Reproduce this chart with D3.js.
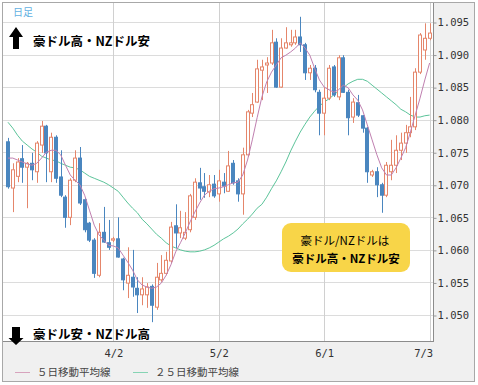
<!DOCTYPE html>
<html>
<head>
<meta charset="utf-8">
<script src="https://cdn.jsdelivr.net/npm/d3@7"></script>
<style>
  body { margin: 0; background: #fff; }
  svg text { font-family: "DejaVu Sans Mono", monospace; }
  svg text.jp { font-family: "Noto Sans CJK JP", sans-serif; }
</style>
</head>
<body>
<svg width="478" height="385"></svg>
<script>
// AUD/NZD daily, 2018-03-01 .. 2018-07-03 (weekdays)
var priceOpen = [1.0766,1.0695,1.0713,1.0740,1.0727,1.0733,1.0720,1.0761,1.0790,1.0720,
  1.0773,1.0712,1.0681,1.0650,1.0707,1.0741,1.0677,1.0641,1.0615,1.0561,
  1.0627,1.0611,1.0615,1.0617,1.0586,1.0549,1.0558,1.0541,1.0531,1.0531,
  1.0544,1.0512,1.0554,1.0564,1.0583,1.0637,1.0626,1.0618,1.0631,1.0650,
  1.0703,1.0697,1.0689,1.0701,1.0686,1.0704,1.0690,1.0733,1.0706,1.0686,
  1.0746,1.0810,1.0827,1.0876,1.0884,1.0887,1.0919,1.0850,1.0910,1.0915,
  1.0918,1.0927,1.0915,1.0872,1.0879,1.0842,1.0810,1.0833,1.0881,1.0835,
  1.0895,1.0842,1.0804,1.0826,1.0806,1.0787,1.0715,1.0720,1.0700,1.0684,
  1.0720,1.0730,1.0753,1.0764,1.0780,1.0789,1.0873,1.0907,1.0925];
var priceHigh = [1.0772,1.0733,1.0741,1.0761,1.0735,1.0749,1.0767,1.0798,1.0792,1.0780,
  1.0776,1.0753,1.0684,1.0710,1.0753,1.0758,1.0680,1.0643,1.0618,1.0641,
  1.0666,1.0646,1.0620,1.0650,1.0588,1.0604,1.0600,1.0558,1.0558,1.0549,
  1.0547,1.0580,1.0592,1.0597,1.0643,1.0670,1.0660,1.0658,1.0686,1.0710,
  1.0726,1.0718,1.0715,1.0715,1.0723,1.0718,1.0752,1.0738,1.0710,1.0757,
  1.0815,1.0841,1.0892,1.0892,1.0896,1.0938,1.0925,1.0925,1.0942,1.0938,
  1.0938,1.0958,1.0918,1.0884,1.0884,1.0846,1.0850,1.0884,1.0884,1.0899,
  1.0899,1.0846,1.0833,1.0838,1.0807,1.0789,1.0723,1.0727,1.0703,1.0735,
  1.0769,1.0776,1.0780,1.0792,1.0835,1.0879,1.0933,1.0948,1.0948];
var priceLow = [1.0694,1.0658,1.0704,1.0703,1.0664,1.0707,1.0703,1.0749,1.0704,1.0704,
  1.0703,1.0681,1.0634,1.0638,1.0704,1.0669,1.0627,1.0612,1.0557,1.0558,
  1.0611,1.0600,1.0612,1.0588,1.0538,1.0526,1.0528,1.0503,1.0515,1.0511,
  1.0489,1.0508,1.0551,1.0561,1.0580,1.0603,1.0618,1.0615,1.0627,1.0646,
  1.0677,1.0680,1.0681,1.0680,1.0674,1.0687,1.0689,1.0700,1.0674,1.0654,
  1.0743,1.0804,1.0826,1.0830,1.0841,1.0884,1.0849,1.0849,1.0909,1.0912,
  1.0915,1.0904,1.0861,1.0861,1.0842,1.0776,1.0776,1.0830,1.0835,1.0830,
  1.0841,1.0776,1.0795,1.0804,1.0780,1.0703,1.0712,1.0681,1.0657,1.0681,
  1.0707,1.0718,1.0738,1.0749,1.0773,1.0784,1.0870,1.0892,1.0922];
var priceClose = [1.0697,1.0723,1.0735,1.0727,1.0733,1.0723,1.0764,1.0790,1.0749,1.0773,
  1.0710,1.0684,1.0650,1.0707,1.0741,1.0672,1.0631,1.0615,1.0564,1.0627,
  1.0612,1.0604,1.0617,1.0589,1.0554,1.0561,1.0543,1.0531,1.0540,1.0543,
  1.0515,1.0558,1.0564,1.0584,1.0635,1.0626,1.0634,1.0627,1.0683,1.0704,
  1.0695,1.0690,1.0700,1.0683,1.0706,1.0698,1.0729,1.0703,1.0686,1.0746,
  1.0812,1.0823,1.0878,1.0881,1.0887,1.0918,1.0850,1.0910,1.0918,1.0918,
  1.0927,1.0915,1.0872,1.0879,1.0846,1.0810,1.0833,1.0879,1.0838,1.0895,
  1.0842,1.0803,1.0827,1.0807,1.0787,1.0720,1.0720,1.0700,1.0684,1.0730,
  1.0730,1.0753,1.0764,1.0780,1.0789,1.0873,1.0930,1.0925,1.0933];
var ma5 = [1.0741,1.0741,1.0738,1.0735,1.0732,1.0730,1.0733,1.0741,1.0750,1.0753,
  1.0753,1.0746,1.0730,1.0715,1.0707,1.0700,1.0684,1.0661,1.0638,1.0623,
  1.0615,1.0607,1.0606,1.0603,1.0592,1.0581,1.0569,1.0554,1.0546,1.0543,
  1.0541,1.0543,1.0549,1.0561,1.0577,1.0597,1.0611,1.0626,1.0643,1.0658,
  1.0672,1.0684,1.0690,1.0694,1.0695,1.0697,1.0700,1.0703,1.0704,1.0715,
  1.0738,1.0769,1.0803,1.0835,1.0858,1.0873,1.0884,1.0895,1.0899,1.0904,
  1.0910,1.0918,1.0910,1.0899,1.0879,1.0861,1.0850,1.0846,1.0842,1.0846,
  1.0853,1.0849,1.0838,1.0830,1.0815,1.0792,1.0769,1.0746,1.0726,1.0715,
  1.0715,1.0726,1.0741,1.0757,1.0781,1.0807,1.0833,1.0861,1.0887];
var ma25 = [1.0796,1.0787,1.0776,1.0767,1.0761,1.0755,1.0750,1.0744,1.0741,1.0738,
  1.0737,1.0733,1.0730,1.0727,1.0726,1.0723,1.0718,1.0713,1.0710,1.0707,
  1.0704,1.0700,1.0695,1.0690,1.0681,1.0672,1.0664,1.0657,1.0647,1.0640,
  1.0632,1.0624,1.0618,1.0611,1.0606,1.0603,1.0600,1.0598,1.0597,1.0597,
  1.0598,1.0600,1.0603,1.0607,1.0612,1.0617,1.0621,1.0626,1.0632,1.0640,
  1.0647,1.0655,1.0664,1.0670,1.0681,1.0694,1.0706,1.0720,1.0735,1.0752,
  1.0767,1.0781,1.0793,1.0804,1.0813,1.0821,1.0827,1.0832,1.0838,1.0844,
  1.0849,1.0855,1.0859,1.0862,1.0862,1.0859,1.0853,1.0847,1.0841,1.0835,
  1.0829,1.0823,1.0816,1.0812,1.0807,1.0804,1.0804,1.0806,1.0807];
var yTicks = [1.050,1.055,1.060,1.065,1.070,1.075,1.080,1.085,1.090,1.095];
var xTickLabels = ["4/2","5/2","6/1","7/3"];

var dates = d3.timeDay.range(new Date(2018,2,1), new Date(2018,6,4))
              .filter(d => d.getDay() != 0 && d.getDay() != 6);
var fmt = d3.timeFormat("%-m/%-d");

var svg = d3.select("svg");
var plot = {left: 3, top: 3, right: 433, bottom: 341};

var x = d3.scalePoint()
          .domain(d3.range(dates.length))
          .range([8, 429.6]);
var y = d3.scaleLinear()
          .domain([1.050, 1.095])
          .range([315, 22]);

var blue = "#4a86bf", orange = "#e5866b";

// frame
svg.append("rect")
  .attr("x", 2.5).attr("y", 2.5).attr("width", 472).attr("height", 379)
  .attr("fill", "#f0f0f0").attr("stroke", "#a8a8a8");
svg.append("rect")
  .attr("x", plot.left).attr("y", plot.top)
  .attr("width", plot.right - plot.left).attr("height", plot.bottom - plot.top)
  .attr("fill", "#fff");

// grid
svg.append("g").selectAll("line")
  .data(yTicks)
  .enter().append("line")
    .attr("x1", plot.left).attr("x2", plot.right)
    .attr("y1", d => Math.round(y(d)) + 0.5).attr("y2", d => Math.round(y(d)) + 0.5)
    .attr("stroke", "#dcdcdc");

var xTickIdx = xTickLabels.map(l => dates.findIndex(d => fmt(d) == l));
svg.append("g").selectAll("line")
  .data(xTickIdx)
  .enter().append("line")
    .attr("x1", d => Math.round(x(d)) + 0.5).attr("x2", d => Math.round(x(d)) + 0.5)
    .attr("y1", plot.top).attr("y2", plot.bottom)
    .attr("stroke", "#d0d0d0");

// moving averages
var line = d3.line().x((d, i) => x(i)).y(d => y(d));
svg.append("path").datum(ma25)
  .attr("d", line).attr("fill", "none").attr("stroke", "#5cc49a").attr("stroke-width", 1);

// candles
var g = svg.append("g");
var idx = d3.range(dates.length);
g.selectAll(".wick")
  .data(idx)
  .enter().append("line")
    .attr("class", "wick")
    .attr("x1", i => Math.round(x(i)) + 0.5).attr("x2", i => Math.round(x(i)) + 0.5)
    .attr("y1", i => y(priceHigh[i])).attr("y2", i => y(priceLow[i]))
    .attr("stroke", i => priceClose[i] >= priceOpen[i] ? orange : blue);
g.selectAll(".body")
  .data(idx)
  .enter().append("rect")
    .attr("class", "body")
    .attr("x", i => Math.round(x(i)) - 1.5)
    .attr("width", 3)
    .attr("y", i => y(Math.max(priceOpen[i], priceClose[i])))
    .attr("height", i => Math.max(1, Math.abs(y(priceOpen[i]) - y(priceClose[i]))))
    .attr("fill", i => priceClose[i] >= priceOpen[i] ? "#fff" : blue)
    .attr("stroke", i => priceClose[i] >= priceOpen[i] ? orange : blue);

svg.append("path").datum(ma5)
  .attr("d", line).attr("fill", "none").attr("stroke", "#c080b0").attr("stroke-width", 1);

// axes
svg.append("line")
  .attr("x1", plot.right + 0.5).attr("x2", plot.right + 0.5)
  .attr("y1", plot.top).attr("y2", plot.bottom + 1)
  .attr("stroke", "#8c8c8c");
svg.append("line")
  .attr("x1", plot.left).attr("x2", plot.right)
  .attr("y1", plot.bottom + 0.5).attr("y2", plot.bottom + 0.5)
  .attr("stroke", "#8c8c8c");

var yAxis = svg.append("g")
  .attr("transform", "translate(" + (plot.right + 0.5) + ",0.5)")
  .call(d3.axisRight(y).tickValues(yTicks).tickSize(3).tickPadding(1)
          .tickFormat(d3.format(".3f")));
yAxis.select(".domain").remove();
yAxis.selectAll("line").attr("stroke", "#999");
yAxis.selectAll("text").attr("fill", "#333").style("font-size", "10.5px");

var xAxis = svg.append("g")
  .attr("transform", "translate(0," + plot.bottom + ")")
  .call(d3.axisBottom(x).tickValues(xTickIdx).tickSize(0).tickPadding(9)
          .tickFormat(i => fmt(dates[i])));
xAxis.select(".domain").remove();
xAxis.selectAll("text").attr("fill", "#333").style("font-size", "10.5px");
// last label is pulled in so it stays inside the plot width
xAxis.selectAll("text").filter((d, k) => k == xTickIdx.length - 1)
  .attr("text-anchor", "end").attr("dx", 3);

// labels
svg.append("text").attr("class", "jp")
  .attr("x", 13).attr("y", 16).attr("fill", "#62b0e2").style("font-size", "10px")
  .text("日足");

svg.append("path")
  .attr("d", "M9,37 L16,27 L23,37 L19,37 L19,49 L13,49 L13,37 Z")
  .attr("fill", "#000");
svg.append("text").attr("class", "jp")
  .attr("x", 33).attr("y", 46).style("font-size", "12.5px").style("font-weight", "bold")
  .text("豪ドル高・NZドル安");

svg.append("path")
  .attr("d", "M12,327 L20,327 L20,338 L23.5,338 L16,345 L8.5,338 L12,338 Z")
  .attr("fill", "#000");
svg.append("text").attr("class", "jp")
  .attr("x", 33).attr("y", 339).style("font-size", "12.5px").style("font-weight", "bold")
  .text("豪ドル安・NZドル高");

// callout
svg.append("rect")
  .attr("x", 282).attr("y", 223).attr("width", 128).attr("height", 49).attr("rx", 9)
  .attr("fill", "#f8d548");
svg.append("text").attr("class", "jp")
  .attr("x", 345).attr("y", 245).attr("text-anchor", "middle").style("font-size", "11.5px")
  .text("豪ドル/NZドルは");
svg.append("text").attr("class", "jp")
  .attr("x", 346).attr("y", 263).attr("text-anchor", "middle").style("font-size", "11.5px")
  .style("font-weight", "bold")
  .text("豪ドル高・NZドル安");

// legend
var legend = [["５日移動平均線", "#d7a3bd", 15], ["２５日移動平均線", "#86d4b4", 133]];
legend.forEach(function(l){
  svg.append("line")
    .attr("x1", l[2]).attr("x2", l[2] + 15).attr("y1", 372.5).attr("y2", 372.5)
    .attr("stroke", l[1]);
  svg.append("text").attr("class", "jp")
    .attr("x", l[2] + 22).attr("y", 376).attr("fill", "#444").style("font-size", "10.5px")
    .text(l[0]);
});
</script>
</body>
</html>
